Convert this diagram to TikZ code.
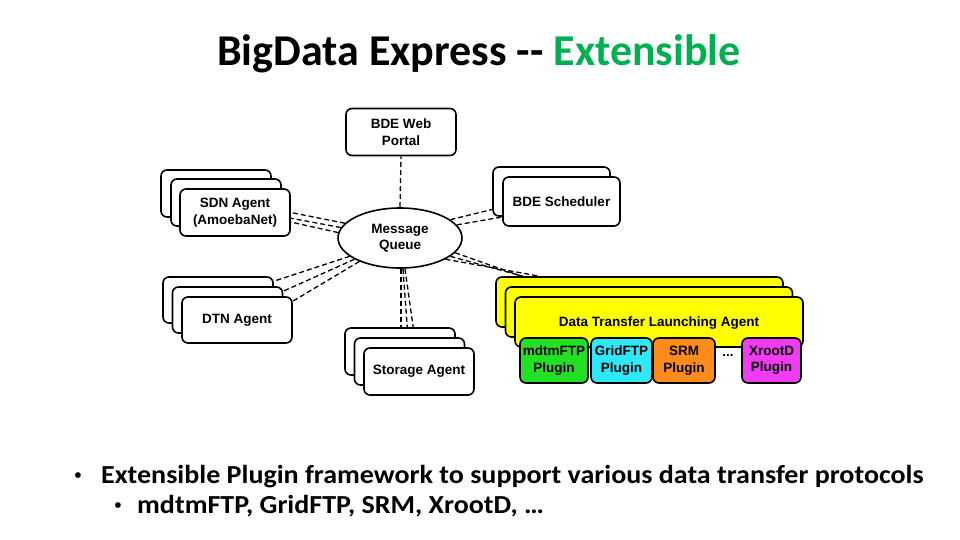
\documentclass[tikz,border=0pt]{standalone}
\usepackage{fontspec}
\setmainfont{Carlito}
\newfontfamily\hv{Liberation Sans}
\newfontfamily\bodyfont{Carlito}[FakeStretch=1.078]
\usetikzlibrary{shapes.geometric}
\definecolor{titlegreen}{HTML}{00B050}
\definecolor{plgreen}{HTML}{22E022}
\definecolor{plcyan}{HTML}{2EE8F8}
\definecolor{plorange}{HTML}{FF8C1A}
\definecolor{plmagenta}{HTML}{F03CF0}
\definecolor{dtyellow}{HTML}{FFFF00}
\pgfdeclarelayer{bg}
\pgfsetlayers{bg,main}
\begin{document}
\begin{tikzpicture}[x=1pt,y=-1pt,
  box/.style={draw=black, line width=1.6pt, rounded corners=6pt, fill=white,
    minimum width=110pt, minimum height=47pt, inner sep=0pt,
    font=\hv\bfseries\fontsize{13.5}{16.5}\selectfont, align=center},
  dtbox/.style={box, fill=dtyellow, minimum width=287pt, minimum height=50pt},
  plug/.style={box, minimum height=45pt},
  conn/.style={draw=black, line width=1.3pt, dash pattern=on 5pt off 3pt},
  titlefont/.style={font=\bfseries\fontsize{44}{53}\selectfont},
  bulletfont/.style={font=\bodyfont\bfseries\fontsize{26}{31}\selectfont},
  dotfont/.style={font=\hv\fontsize{21}{25}\selectfont}
]
\useasboundingbox (0,0) rectangle (960,540);

% title
\node[titlefont, anchor=base] (title) at (479,66) {BigData Express -{}- \textcolor{titlegreen}{Extensible}};

% web portal
\node[box] (portal) at (401,132) {BDE Web\\Portal};

% message queue
\node[ellipse, draw=black, line width=1.6pt, fill=white, minimum width=124pt,
  minimum height=60pt, inner sep=0pt, align=center,
  font=\hv\bfseries\fontsize{13.5}{16.5}\selectfont] (mq) at (400,238) {Message\\Queue};

% SDN agent stack
\node[box] (sdnA) at (216,193.5) {};
\node[box] (sdnB) at (226,202.5) {};
\node[box] (sdnC) at (235,212.5) {SDN Agent\\(AmoebaNet)};

% scheduler stack
\node[box, minimum width=117pt, minimum height=49pt] (schA) at (551.5,191.5) {};
\node[box, minimum width=117pt, minimum height=49pt] (schB) at (561.5,201.5) {BDE Scheduler};

% DTN agent stack
\node[box, minimum height=46pt] (dtnA) at (218,300) {};
\node[box, minimum height=46pt] (dtnB) at (227.5,310) {};
\node[box, minimum height=46pt] (dtnC) at (237,320) {DTN Agent};

% storage agent stack
\node[box] (stA) at (400,351.5) {};
\node[box] (stB) at (409.5,361.5) {};
\node[box] (stC) at (419,371.5) {Storage Agent};

% data transfer launching agent stack
\node[dtbox] (dtA) at (639.5,302) {};
\node[dtbox] (dtB) at (649,312) {};
\node[dtbox, minimum width=288pt] (dtC) at (659,322) {};
\node[font=\hv\bfseries\fontsize{13.5}{16.5}\selectfont] (dtlabel) at (659,323) {Data Transfer Launching Agent};

% plugins
\node[plug, fill=plgreen, minimum width=68pt] (p1) at (554,360.5) {mdtmFTP\\Plugin};
\node[plug, fill=plcyan, minimum width=61pt] (p2) at (621.5,360.5) {GridFTP\\Plugin};
\node[plug, fill=plorange, minimum width=62pt] (p3) at (684,360.5) {SRM\\Plugin};
\node[font=\hv\bfseries\fontsize{13.5}{16.5}\selectfont] (dots) at (728,355) {...};
\node[plug, fill=plmagenta, minimum width=59pt] (p4) at (771.5,360.5) {XrootD\\Plugin};

% connectors
\begin{pgfonlayer}{bg}
\draw[conn] (mq.north) -- (portal.south);
% SDN
\draw[conn] (mq.165) -- (sdnC.east);
\draw[conn] (mq.170) -- ([yshift=-14pt]sdnB.east);
\draw[conn] (mq.175) -- (sdnA.south east);
% DTN
\draw[conn] (mq.200) -- ([yshift=-5pt]dtnA.north east);
\draw[conn] (mq.205) -- ([yshift=-5pt]dtnB.north east);
\draw[conn] (mq.210) -- ([yshift=-5pt]dtnC.north east);
% storage
\draw[conn] ([xshift=1pt]mq.south) -- ([xshift=1pt]stA.north);
\draw[conn] ([xshift=3pt]mq.south) -- ([xshift=-1.5pt]stB.north);
\draw[conn] ([xshift=5pt]mq.south) -- ([xshift=-3pt]stC.north);
% scheduler
\draw[conn] (mq.20) -- ([yshift=-18pt]schA.west);
\draw[conn] (mq.13) -- ([yshift=-15.5pt]schB.west);
% data transfer agent
\draw[conn] (mq.335) -- ([xshift=-100pt]dtA.north);
\draw[conn] (mq.340) -- ([xshift=-90pt]dtB.north);
\draw[conn] (mq.345) -- ([xshift=-81pt]dtC.north);
\end{pgfonlayer}

% bullets
\node[dotfont, anchor=base, inner sep=0pt] (bul1) at (78,482) {•};
\node[bulletfont, anchor=base west, inner sep=0pt] (b1) at (101,483) {Extensible Plugin framework to support various data transfer protocols};
\node[dotfont, anchor=base, inner sep=0pt] (bul2) at (118,512) {•};
\node[bulletfont, anchor=base west, inner sep=0pt] (b2) at (137,513) {mdtmFTP, GridFTP, SRM, XrootD, …};
\end{tikzpicture}
\end{document}
